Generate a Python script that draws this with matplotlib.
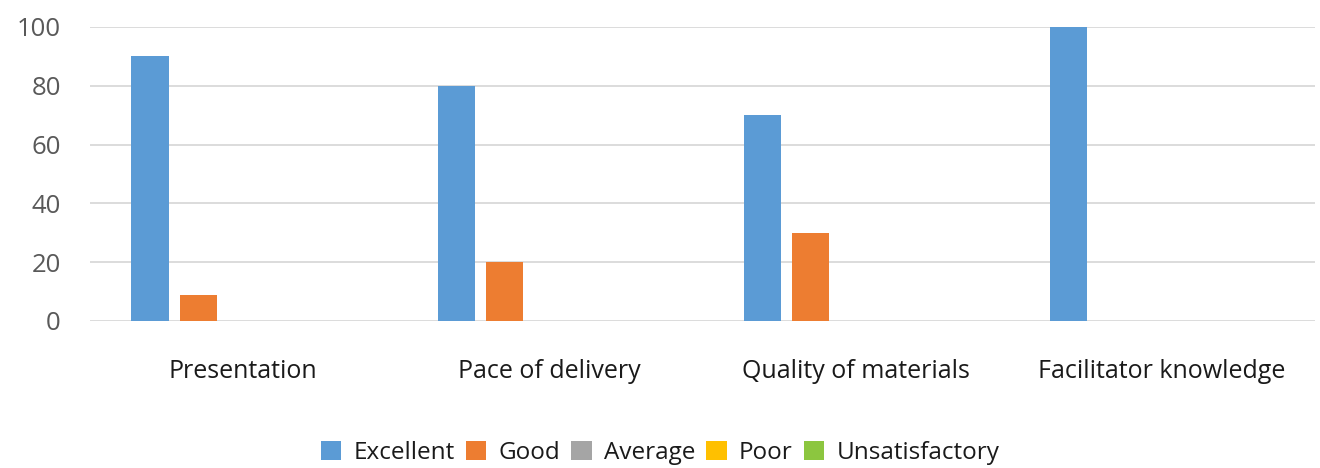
import matplotlib
matplotlib.use("Agg")
import matplotlib.pyplot as plt
import numpy as np

categories = ["Presentation", "Pace of delivery", "Quality of materials", "Facilitator knowledge"]
series_names = ["Excellent", "Good", "Average", "Poor", "Unsatisfactory"]
excellent = [90, 80, 70, 100]
good = [9, 20, 30, 0]
average = [0, 0, 0, 0]
poor = [0, 0, 0, 0]
unsatisfactory = [0, 0, 0, 0]
colors = ["#5b9bd5", "#ed7d31", "#a5a5a5", "#ffc000", "#8cc63f"]
yticks = [0, 20, 40, 60, 80, 100]

plt.rcParams['font.family'] = ['Open Sans', 'DejaVu Sans']

fig = plt.figure(figsize=(13.2, 4.68), dpi=100)
ax = fig.add_axes([90/1320, (468-321)/468, (1315-90)/1320, (321-27)/468])

x = np.arange(len(categories))
step = 0.157
width = 0.121
data = [excellent, good, average, poor, unsatisfactory]
for i, (name, vals, c) in enumerate(zip(series_names, data, colors)):
    ax.bar(x + (i - 2) * step + 0.01, vals, width, color=c, label=name, zorder=3)

ax.set_xlim(-0.5, len(categories) - 0.5)
ax.set_ylim(0, 100)
ax.set_yticks(yticks)
ax.set_yticklabels([str(v) for v in yticks], color="#595959", fontsize=18.5)
ax.set_xticks(x)
ax.set_xticklabels(categories, fontsize=18, color="#1a1a1a")
ax.tick_params(axis='both', length=0)
ax.tick_params(axis='x', pad=27)
ax.tick_params(axis='y', pad=21)
ax.grid(axis='y', color="#d9d9d9", linewidth=1.3, zorder=0)
for s in ax.spines.values():
    s.set_visible(False)

leg = fig.legend(loc='center', bbox_to_anchor=(0.5, (468-453)/468), ncol=5, frameon=False,
                 fontsize=17.5, handlelength=0.85, handleheight=0.85, handletextpad=0.5,
                 columnspacing=0.45)
for t in leg.get_texts():
    t.set_color("#1a1a1a")

fig.savefig("out.png", dpi=100)
